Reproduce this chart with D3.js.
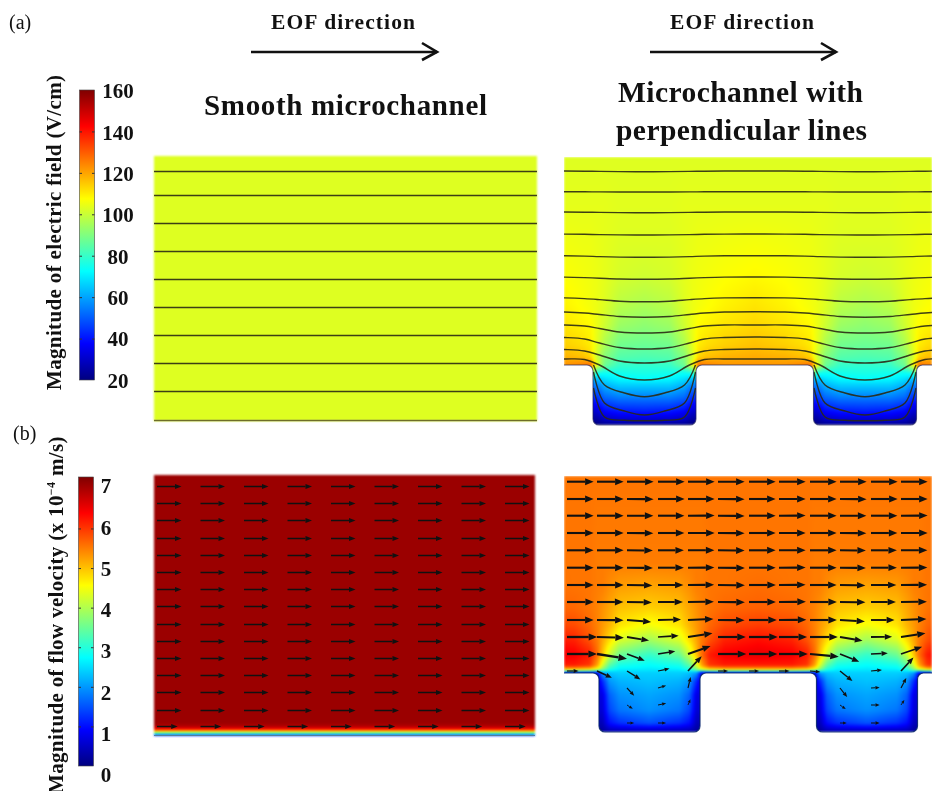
<!DOCTYPE html>
<html>
<head>
<meta charset="utf-8">
<script src="https://cdn.jsdelivr.net/npm/d3@7"></script>
<style>
  html, body { margin: 0; background: #fff; overflow: hidden; }
  #plot { position: absolute; left: 0; top: 0; }
  svg { position: absolute; left: 0; top: 0; font-family: "Liberation Serif", serif; filter: blur(0.35px); }
</style>
</head>
<body>
<canvas id="plot" width="932" height="791"></canvas>
<svg id="over" width="932" height="791"></svg>
<script>
// colour bar ticks
const fieldTicks = [20, 40, 60, 80, 100, 120, 140, 160];
const flowTicks = [0, 1, 2, 3, 4, 5, 6, 7];
const jetStops = [0, 0.125, 0.375, 0.625, 0.875, 1];
const jetColors = ["#00007f", "#0000ff", "#00ffff", "#ffff00", "#ff0000", "#7f0000"];

// smooth channel, electric field: flat value and heights (above wall) of the field lines
const smoothFieldValue = 103;
const smoothLineH = [249, 225, 197, 169, 141, 113, 85, 57, 29];

// patterned channel, electric field (V/cm). heights above floor, distance from trench centre
const fieldH = [-60, -57, -45, -32, -20, -15, -8, 0, 8, 20, 40, 60, 90, 125, 160, 208];
const fieldDx = [0, 25, 40, 48, 54, 62, 80, 110];
const fieldGrid = [
  [22, 22, 22, 20, 20, 20, 20, 20],
  [28, 28, 26, 22, 22, 22, 22, 22],
  [43, 42, 39, 32, 32, 32, 32, 32],
  [55, 55, 52, 44, 44, 44, 44, 44],
  [66, 66, 62, 55, 55, 55, 55, 55],
  [72, 71, 67, 62, 62, 62, 62, 62],
  [76, 75, 74, 76, 100, 100, 110, 110],
  [79, 80, 88, 106, 128, 125, 122, 122],
  [83, 84, 91, 101, 113, 116, 118, 119],
  [87, 88, 96, 104, 110, 112, 114, 116],
  [92, 94, 101, 105, 108, 109, 111, 113],
  [96, 98, 103, 105, 106, 107, 109, 111],
  [101, 102, 104, 105, 105.5, 106, 107, 108],
  [103, 103, 104, 104.5, 105, 105, 105.5, 106],
  [103.5, 103.5, 104, 104, 104, 104, 104, 104],
  [103, 103, 103, 103, 103, 103, 103, 103]
];

// field lines over the patterned wall, read at these distances from the trench centre
const lineDx = [0, 25, 45, 60, 80, 110];
const fieldLines = [
  [193.3, 193.4, 193.6, 193.8, 194, 194],
  [173, 173, 173.1, 173.2, 173.3, 173.3],
  [152.3, 152.4, 152.6, 152.8, 153, 153],
  [130, 130.1, 130.4, 130.7, 130.9, 131],
  [107.7, 107.9, 108.4, 108.9, 109.2, 109.3],
  [85.7, 86, 86.8, 87.4, 87.9, 88],
  [63.3, 63.8, 65.4, 66.4, 67.1, 67.3],
  [47.7, 48.5, 50.5, 52, 53, 53.3],
  [32, 33, 36.5, 39, 40, 40],
  [16, 17.5, 22, 26, 27.5, 28],
  [2, 4, 10, 14, 15.5, 16],
  [-15, -11, 0, 5.5, 6, 6]
];
// lines that stay inside the trench
const trenchDx = [0, 20, 40, 51];
const trenchLines = [
  [-31.7, -28, -20, 0],
  [-50, -46, -38, -7],
  [-55.7, -55.3, -52, -23]
];

// smooth channel, velocity (x 1e-4 m/s) across the wall layer
const smoothFlowH = [0, 0.5, 1.8, 2.8, 3.8, 4.8, 6.5, 8.8, 12.5, 260];
const smoothFlowV = [1.2, 1.6, 2.8, 3.7, 4.6, 5.4, 6.4, 6.9, 7.1, 7.1];
const smoothArrowX = [3, 46.5, 90, 133.5, 177, 220.5, 264, 307.5, 351];
const smoothArrowH = [249.5, 232.3, 215.1, 197.9, 180.7, 163.5, 146.3, 129.1, 111.9, 94.7, 77.5, 60.3, 43.1, 25.9, 9.5];
const smoothArrowU = [7.1, 7.1, 7.1, 7.1, 7.1, 7.1, 7.1, 7.1, 7.1, 7.1, 7.1, 7.1, 7.1, 7.1, 6];

// patterned channel, velocity
const flowH = [-59, -50, -37, -22, -8, 0, 1, 2, 3, 5, 8, 18, 33, 48, 65, 90, 110, 197];
const flowDx = [0, 30, 40, 47, 52, 60, 75, 108];
const flowGrid = [
  [0.3, 0.3, 0.3, 0.2, 0.2, 0.2, 0.2, 0.2],
  [1.5, 1.25, 1.0, 0.4, 0.4, 0.4, 0.4, 0.4],
  [1.95, 1.75, 1.4, 0.6, 0.6, 0.6, 0.6, 0.6],
  [2.1, 1.95, 1.6, 0.7, 0.7, 0.7, 0.7, 0.7],
  [2.3, 2.2, 2, 1.2, 0.6, 0.6, 0.6, 0.6],
  [2.4, 2.4, 2.3, 2, 0.8, 0.6, 0.6, 0.6],
  [2.45, 2.45, 2.4, 2.3, 1.4, 1.6, 1.8, 1.8],
  [2.5, 2.5, 2.6, 2.8, 2.6, 3, 3.2, 3.2],
  [2.55, 2.6, 2.9, 3.5, 4, 4.4, 4.6, 4.6],
  [2.65, 2.75, 3.1, 3.9, 4.7, 5.3, 5.5, 5.5],
  [2.75, 2.9, 3.4, 4.3, 5.2, 6, 6.2, 6.2],
  [3.1, 3.5, 4.2, 5, 5.6, 6.2, 6.45, 6.55],
  [3.9, 4.3, 4.8, 5.2, 5.5, 5.8, 6.15, 6.3],
  [4.5, 4.75, 5.1, 5.3, 5.45, 5.65, 5.85, 5.95],
  [4.9, 5, 5.2, 5.35, 5.45, 5.55, 5.65, 5.7],
  [5.25, 5.3, 5.4, 5.5, 5.5, 5.55, 5.55, 5.6],
  [5.5, 5.5, 5.5, 5.5, 5.5, 5.55, 5.55, 5.55],
  [5.55, 5.55, 5.55, 5.55, 5.55, 5.55, 5.55, 5.55]
];

// velocity arrows on the patterned channel
const arrowX = [-82.5, -52.5, -22.5, 8.5, 38.5, 68.5, 99.5, 129.5, 160.5, 190.5, 221.5, 251.5];
const arrowH = [191.3, 174, 157.3, 140, 122.7, 105.3, 88, 71, 53, 36, 19, 2, -15, -32, -50];
const arrowU = [
  [5.55, 5.55, 5.55, 5.55, 5.55, 5.55, 5.55, 5.55, 5.55, 5.55, 5.55, 5.55],
  [5.55, 5.55, 5.55, 5.55, 5.55, 5.55, 5.55, 5.55, 5.55, 5.55, 5.55, 5.55],
  [5.55, 5.55, 5.5, 5.5, 5.55, 5.55, 5.55, 5.55, 5.55, 5.5, 5.5, 5.55],
  [5.55, 5.55, 5.5, 5.5, 5.55, 5.55, 5.55, 5.55, 5.55, 5.5, 5.5, 5.55],
  [5.55, 5.55, 5.4, 5.4, 5.5, 5.55, 5.55, 5.55, 5.55, 5.4, 5.4, 5.5],
  [5.55, 5.55, 5.4, 5.4, 5.5, 5.6, 5.55, 5.55, 5.55, 5.4, 5.4, 5.5],
  [5.55, 5.55, 5.3, 5.3, 5.45, 5.6, 5.6, 5.55, 5.55, 5.3, 5.3, 5.45],
  [5.6, 5.5, 5.2, 5.2, 5.4, 5.6, 5.6, 5.6, 5.6, 5.3, 5.2, 5.4],
  [5.55, 5.55, 5.05, 4.8, 5.3, 5.55, 5.8, 5.7, 5.6, 5.2, 4.9, 5.3],
  [6.3, 5.6, 4.6, 4.3, 5.1, 5.8, 6, 5.85, 5.8, 4.7, 4.4, 5.1],
  [6.25, 6.25, 3.7, 3.6, 4.7, 5.9, 5.9, 6, 6, 4, 3.5, 4.4],
  [2.4, 3.1, 2.8, 2.4, 2.85, 2.1, 2.1, 2.2, 2.15, 2.6, 2.3, 2.6],
  [0, 0, 1.5, 1.7, 0.55, 0, 0, 0, 0, 1.5, 1.8, 1.1],
  [0, 0, 1.2, 1.7, 0.5, 0, 0, 0, 0, 1.2, 1.8, 0.7],
  [0, 0, 1.5, 1.7, 0, 0, 0, 0, 0, 1.4, 1.8, 0]
];
const arrowV = [
  [0, 0, 0, 0, 0, -0.03, 0, 0, 0, 0, 0, 0],
  [0, 0, -0.03, 0, 0, -0.03, 0, 0.02, 0, -0.03, 0, 0],
  [0, 0, -0.03, 0, 0.02, -0.05, 0, 0.02, 0, -0.03, 0, 0.02],
  [0, 0, -0.05, 0, 0.02, -0.05, 0, 0.02, 0, -0.05, 0, 0.02],
  [0, 0, -0.05, 0, 0.03, -0.06, 0, 0.02, 0, -0.05, 0, 0.03],
  [0, 0, -0.06, 0, 0.03, -0.07, 0, 0.03, 0, -0.06, 0, 0.03],
  [0, 0, -0.08, 0, 0.04, -0.06, 0, 0.03, 0, -0.08, 0, 0.04],
  [0, 0, -0.1, 0, 0.05, -0.05, 0, 0.05, 0, -0.05, 0, 0.05],
  [0, -0.05, -0.4, 0.1, 0.2, -0.05, 0, 0.05, 0, -0.3, 0, 0.2],
  [0, -0.15, -0.75, 0.25, 0.8, 0, 0, 0, 0, -0.8, 0.05, 0.8],
  [0, -1, -1.4, 0.55, 1.65, 0, 0, 0, -0.55, -1.6, 0.15, 1.5],
  [0, -1.4, -1.75, 0.5, 3.1, 0, 0, 0, -0.2, -2.1, 0.2, 2.8],
  [0, 0, -1.6, 0.5, 2.3, 0, 0, 0, 0, -1.9, 0.1, 2.1],
  [0, 0, -0.8, 0.35, 1.2, 0, 0, 0, 0, -0.85, 0, 1.05],
  [0, 0, 0, 0, 0, 0, 0, 0, 0, 0, 0, 0]
];

const svg = d3.select("#over");
const ctx = document.getElementById("plot").getContext("2d");

const jet = d3.scaleLinear().domain(jetStops).range(jetColors).clamp(true);
const fieldColor = v => jet((v - 20) / 140);
const flowColor = v => jet(v / 7.3);

// panel scales, x = distance along the channel, y = height above the wall
const xSmoothA = d3.scaleLinear().domain([0, 383]).range([154, 537]);
const ySmoothA = d3.scaleLinear().domain([0, 264]).range([420.5, 156.5]);
const xSmoothB = d3.scaleLinear().domain([0, 381]).range([154, 535]);
const ySmoothB = d3.scaleLinear().domain([0, 260]).range([735.5, 475.5]);
const periodA = 220.5, halfA = 51.5;
const periodB = 217.5, halfB = 50.5;
const xPatA = d3.scaleLinear().domain([-80.5, 287.5]).range([564, 932]);
const yPatA = d3.scaleLinear().domain([-60, 208]).range([425, 157]);
const xPatB = d3.scaleLinear().domain([-85.5, 282.5]).range([564, 932]);
const yPatB = d3.scaleLinear().domain([-59, 197]).range([732, 476]);

// fill a panel from its value grid, pixel by pixel, then soften it a little
function paintField(xs, ys, xValue, rows, cols, grid, color, clip) {
  const rowIdx = d3.scaleLinear().domain(rows).range(d3.range(rows.length)).clamp(true);
  const colIdx = d3.scaleLinear().domain(cols).range(d3.range(cols.length)).clamp(true);
  const [px0, px1] = xs.range(), [py1, py0] = ys.range();
  const x0 = Math.floor(px0), y0 = Math.floor(py0);
  const w = Math.ceil(px1) - x0, h = Math.ceil(py1) - y0;
  const off = document.createElement("canvas");
  off.width = w; off.height = h;
  const octx = off.getContext("2d");
  const img = octx.createImageData(w, h);
  for (let j = 0; j < h; j++) {
    const r = rowIdx(ys.invert(y0 + j + 0.5));
    const r0 = Math.floor(r), r1 = Math.min(r0 + 1, rows.length - 1), fr = r - r0;
    for (let i = 0; i < w; i++) {
      const c = colIdx(xValue(xs.invert(x0 + i + 0.5)));
      const c0 = Math.floor(c), c1 = Math.min(c0 + 1, cols.length - 1), fc = c - c0;
      const v = (grid[r0][c0] * (1 - fc) + grid[r0][c1] * fc) * (1 - fr) +
                (grid[r1][c0] * (1 - fc) + grid[r1][c1] * fc) * fr;
      const rgb = d3.rgb(color(v));
      const k = (j * w + i) * 4;
      img.data[k] = rgb.r; img.data[k + 1] = rgb.g; img.data[k + 2] = rgb.b; img.data[k + 3] = 255;
    }
  }
  octx.putImageData(img, 0, 0);
  ctx.save();
  if (clip) ctx.clip(new Path2D(clip));
  ctx.filter = "blur(1.2px)";
  ctx.drawImage(off, x0, y0);
  ctx.restore();
}

// lower wall of the patterned channel
function wallPath(xs, ys, period, half) {
  const p = d3.path(), r = 6;
  const floor = ys(0), bottom = ys.range()[0];
  const left = xs.range()[0], right = xs.range()[1];
  p.moveTo(left, floor);
  [0, period].forEach(c => {
    const a = xs(c - half), b = xs(c + half);
    p.lineTo(a - r, floor);
    p.arcTo(a, floor, a, floor + r, r);
    p.lineTo(a, bottom - r);
    p.arcTo(a, bottom, a + r, bottom, r);
    p.lineTo(b - r, bottom);
    p.arcTo(b, bottom, b, bottom - r, r);
    p.lineTo(b, floor + r);
    p.arcTo(b, floor, b + r, floor, r);
  });
  p.lineTo(right, floor);
  return p.toString();
}
const closeShape = (wall, xs, ys) =>
  wall + "L" + xs.range()[1] + "," + ys.range()[1] + "L" + xs.range()[0] + "," + ys.range()[1] + "Z";

const foldA = x => Math.abs(((x + periodA / 2) % periodA + periodA) % periodA - periodA / 2);
const foldB = x => Math.abs(((x + periodB / 2) % periodB + periodB) % periodB - periodB / 2);

// top left: uniform field
paintField(xSmoothA, ySmoothA, x => 0, [0, 264], [0, 1],
  [[smoothFieldValue, smoothFieldValue], [smoothFieldValue, smoothFieldValue]], fieldColor);
// bottom left: uniform flow with thin wall layer
paintField(xSmoothB, ySmoothB, x => 0, smoothFlowH, [0, 1],
  smoothFlowV.map(v => [v, v]), flowColor);

const wallA = wallPath(xPatA, yPatA, periodA, halfA);
const wallB = wallPath(xPatB, yPatB, periodB, halfB);
paintField(xPatA, yPatA, foldA, fieldH, fieldDx, fieldGrid, fieldColor, closeShape(wallA, xPatA, yPatA));
paintField(xPatB, yPatB, foldB, flowH, flowDx, flowGrid, flowColor, closeShape(wallB, xPatB, yPatB));

// walls
svg.append("line").attr("x1", xSmoothA(0)).attr("x2", xSmoothA(383))
  .attr("y1", ySmoothA(0)).attr("y2", ySmoothA(0)).attr("stroke", "#6e6e28").attr("stroke-width", 1.4);
svg.append("line").attr("x1", xSmoothB(0)).attr("x2", xSmoothB(381))
  .attr("y1", ySmoothB(0)).attr("y2", ySmoothB(0)).attr("stroke", "#4f7f9f").attr("stroke-width", 1);
svg.append("path").attr("d", wallA).attr("fill", "none").attr("stroke", "#1c1c60").attr("stroke-opacity", 0.7).attr("stroke-width", 1.1);
svg.append("path").attr("d", wallB).attr("fill", "none").attr("stroke", "#00206a").attr("stroke-opacity", 0.85).attr("stroke-width", 1.2);

// field lines
const lineColor = "#2a2a14";
svg.append("g").selectAll("line").data(smoothLineH).join("line")
  .attr("x1", xSmoothA(0)).attr("x2", xSmoothA(383))
  .attr("y1", d => ySmoothA(d)).attr("y2", d => ySmoothA(d))
  .attr("stroke", lineColor).attr("stroke-opacity", 0.9).attr("stroke-width", 1.4);

svg.append("clipPath").attr("id", "clipA").append("path").attr("d", closeShape(wallA, xPatA, yPatA));
const curve = d3.line().x(d => xPatA(d[0])).y(d => yPatA(d[1])).curve(d3.curveCatmullRom.alpha(0.5));
const centres = [0, periodA];
// walk the lines across both trenches, the values mirror about each trench centre
const unfold = (dxs, ys) => {
  const pts = [];
  centres.forEach(c => {
    for (let i = dxs.length - 1; i > 0; i--) pts.push([c - dxs[i], ys[i]]);
    pts.push([c, ys[0]]);
    for (let i = 1; i < dxs.length - 1; i++) pts.push([c + dxs[i], ys[i]]);
  });
  pts.push([centres[1] + dxs[dxs.length - 1], ys[ys.length - 1]]);
  return pts;
};
const linesA = svg.append("g").attr("clip-path", "url(#clipA)")
  .attr("fill", "none").attr("stroke", lineColor).attr("stroke-opacity", 0.9).attr("stroke-width", 1.4);
linesA.selectAll("path.full").data(fieldLines).join("path").attr("class", "full")
  .attr("d", d => curve(unfold(lineDx, d)));
centres.forEach(c => {
  linesA.append("g").selectAll("path").data(trenchLines).join("path").attr("d", d => {
    const pts = [];
    for (let i = trenchDx.length - 1; i > 0; i--) pts.push([c - trenchDx[i], d[i]]);
    pts.push([c, d[0]]);
    for (let i = 1; i < trenchDx.length; i++) pts.push([c + trenchDx[i], d[i]]);
    return curve(pts);
  });
});

// arrows, tail at the grid point, length from velocity
function arrow(g, x, y, len, dirX, dirY, width, headLen, headW) {
  const bx = x + dirX * (len - headLen), by = y + dirY * (len - headLen);
  const nx = -dirY, ny = dirX;
  g.append("line").attr("x1", x).attr("y1", y).attr("x2", bx).attr("y2", by)
    .attr("stroke", "#111").attr("stroke-width", width);
  g.append("path").attr("fill", "#111").attr("d", d3.line()([
    [x + dirX * len, y + dirY * len],
    [bx + nx * headW / 2, by + ny * headW / 2],
    [bx - nx * headW / 2, by - ny * headW / 2]
  ]) + "Z");
}
const gSmooth = svg.append("g");
const smoothLen = d3.scaleLinear().domain([0, 7.1]).range([0, 24.5]);
smoothArrowH.forEach((h, i) => smoothArrowX.forEach(x => {
  arrow(gSmooth, xSmoothB(x), Math.round(ySmoothB(h)) + 0.5, smoothLen(smoothArrowU[i]), 1, 0, 1.5, 6.5, 5);
}));
const gFlow = svg.append("g");
const flowLen = d3.scaleLinear().domain([0, 7.3]).range([0, 35]);
arrowH.forEach((h, i) => arrowX.forEach((x, j) => {
  const u = arrowU[i][j], v = arrowV[i][j];
  const mag = Math.hypot(u, v);
  if (mag === 0) return;
  const len = flowLen(mag);
  arrow(gFlow, xPatB(x), yPatB(h), len, u / mag, -v / mag,
    0.5 + len * 0.06, Math.min(8.5, 2 + len * 0.25), Math.min(7, 1.6 + len * 0.2));
}));

// colour bars
function colorBar(id, x, y0, y1, color, dMin, dMax, tickVals, labels, labelY, labelX) {
  const w = 15;
  const grad = svg.append("linearGradient").attr("id", id)
    .attr("x1", 0).attr("x2", 0).attr("y1", 1).attr("y2", 0);
  d3.range(0, 1.001, 0.025).forEach(t => {
    grad.append("stop").attr("offset", t).attr("stop-color", color(dMin + t * (dMax - dMin)));
  });
  const y = d3.scaleLinear().domain([dMin, dMax]).range([y1, y0]);
  svg.append("rect").attr("x", x).attr("y", y0).attr("width", w).attr("height", y1 - y0)
    .attr("fill", "url(#" + id + ")").attr("stroke", "#444").attr("stroke-width", 0.6);
  [d3.axisRight(y).tickSize(2.5), d3.axisLeft(y).tickSize(2.5)].forEach((ax, k) => {
    const g = svg.append("g").attr("transform", "translate(" + (k ? x + w : x) + ",0)")
      .call(ax.tickValues(tickVals).tickFormat(""));
    g.select(".domain").remove();
    g.selectAll("line").attr("stroke", "#333");
  });
  const gl = svg.append("g").attr("transform", "translate(" + labelX + ",0)")
    .call(d3.axisRight(labelY).tickValues(labels).tickFormat(d3.format("d")).tickSize(0).tickPadding(0));
  gl.select(".domain").remove();
  gl.selectAll("text").attr("text-anchor", "middle").attr("fill", "#111")
    .style("font-family", "Liberation Serif").style("font-weight", "bold").style("font-size", "21px");
}
colorBar("barA", 79.5, 90, 380, fieldColor, 20, 160, [40, 60, 80, 100, 120, 140],
  fieldTicks, d3.scaleLinear().domain([20, 160]).range([380.5, 91]), 118);
colorBar("barB", 78.5, 477, 766, flowColor, 0, 7.3, [1, 2, 3, 4, 5, 6],
  flowTicks, d3.scaleLinear().domain([0, 7]).range([775, 486]), 106);

// labels
const label = (txt, x, y, size, weight, len) => {
  const t = svg.append("text").attr("x", x).attr("y", y).text(txt)
    .attr("font-size", size).attr("font-weight", weight).attr("fill", "#111");
  if (len) t.attr("textLength", len).attr("lengthAdjust", "spacing");
  return t;
};
label("(a)", 9, 29, 20, "normal");
label("(b)", 13, 440, 20, "normal");
label("EOF direction", 271, 29, 21.5, "bold", 144);
label("EOF direction", 670, 29, 21.5, "bold", 144);
label("Smooth microchannel", 204, 115, 29, "bold", 283);
label("Microchannel with", 618, 102, 29.5, "bold", 245);
label("perpendicular lines", 616, 140, 29.5, "bold", 251);

// direction arrows
[[251, 437], [650, 836]].forEach(([a, b]) => {
  svg.append("line").attr("x1", a).attr("x2", b).attr("y1", 52).attr("y2", 52)
    .attr("stroke", "#111").attr("stroke-width", 2.6);
  svg.append("path").attr("d", d3.line()([[b - 15, 43], [b, 52], [b - 15, 60]]))
    .attr("fill", "none").attr("stroke", "#111").attr("stroke-width", 2.6);
});

// vertical titles
svg.append("text").attr("transform", "translate(61,390) rotate(-90)")
  .attr("font-size", 21).attr("font-weight", "bold").attr("fill", "#111")
  .attr("textLength", 315).attr("lengthAdjust", "spacing")
  .text("Magnitude of electric field (V/cm)");
const vt = svg.append("text").attr("transform", "translate(63,794) rotate(-90)")
  .attr("font-size", 21).attr("font-weight", "bold").attr("fill", "#111")
  .attr("letter-spacing", 0.35);
vt.append("tspan").text("Magnitude of flow velocity (x 10");
vt.append("tspan").attr("dy", -8).attr("font-size", 12).text("−4");
vt.append("tspan").attr("dy", 8).text(" m/s)");
</script>
</body>
</html>
